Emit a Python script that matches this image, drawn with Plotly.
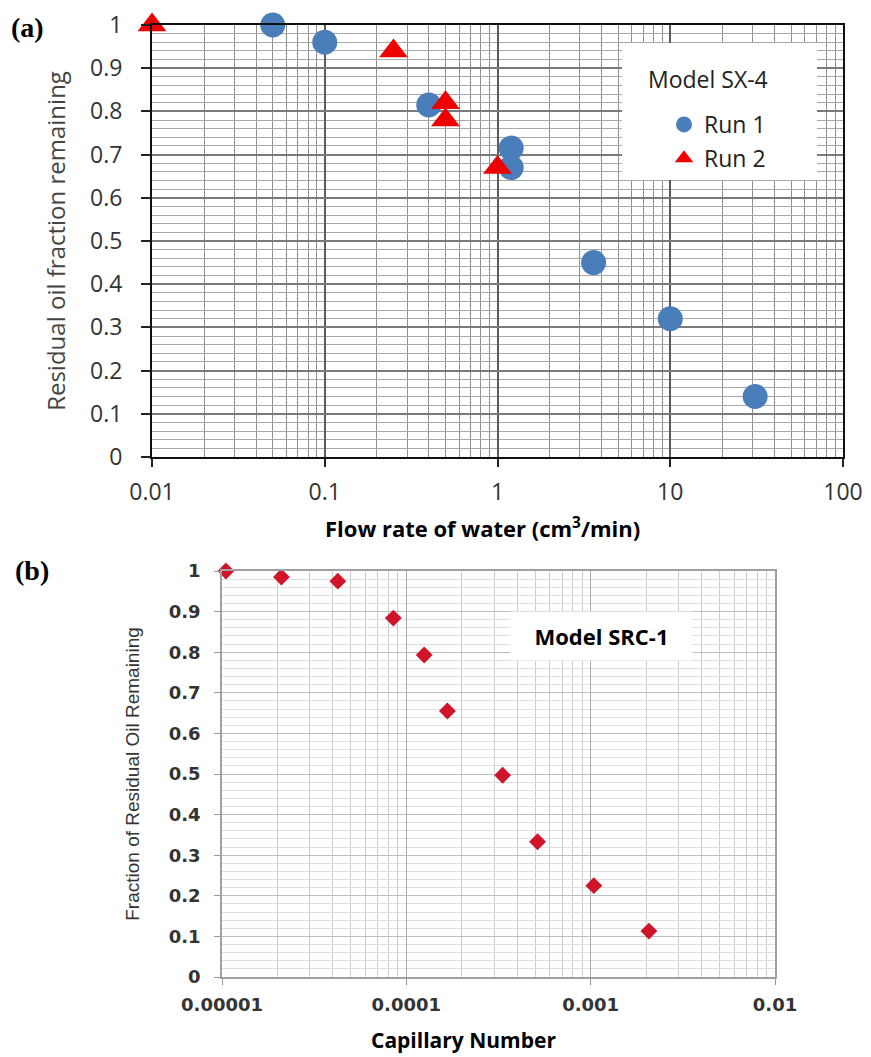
import plotly.graph_objects as go

# page offset of the plot div (default body margin) and figure size
OFF = 8
W, H = 871 - OFF, 1057 - OFF

# ---------------- data: panel (a) ----------------
run1_flow = [0.05, 0.1, 0.4, 1.2, 1.2, 3.6, 10, 31]
run1_frac = [1.0, 0.96, 0.815, 0.715, 0.67, 0.45, 0.32, 0.14]
run2_flow = [0.01, 0.25, 0.5, 0.5, 1.0]
run2_frac = [1.0, 0.94, 0.82, 0.78, 0.67]

# ---------------- data: panel (b) ----------------
cap_number = [1.05e-5, 2.1e-5, 4.25e-5, 8.5e-5, 1.25e-4, 1.67e-4,
              3.33e-4, 5.15e-4, 1.04e-3, 2.07e-3]
src1_frac = [1.0, 0.985, 0.975, 0.884, 0.793, 0.655, 0.497, 0.333, 0.225, 0.113]

# ---------------- tick labels ----------------
a_xtickvals = [0.01, 0.1, 1, 10, 100]
a_xticktext = ["0.01", "0.1", "1", "10", "100"]
b_xtickvals = [1e-5, 1e-4, 1e-3, 1e-2]
b_xticktext = ["0.00001", "0.0001", "0.001", "0.01"]
frac_tickvals = [0, 0.1, 0.2, 0.3, 0.4, 0.5, 0.6, 0.7, 0.8, 0.9, 1.0]
frac_ticktext = ["0", "0.1", "0.2", "0.3", "0.4", "0.5", "0.6", "0.7", "0.8", "0.9", "1"]


def px_x(p):
    return (p - OFF) / W


def px_y(p):
    return 1 - (p - OFF) / H


fig = go.Figure()

fig.add_trace(go.Scatter(
    x=run1_flow, y=run1_frac, mode="markers", name="Run 1",
    legendgroup="r1",
    marker=dict(symbol="circle", size=25, color="#4a7ebb"),
    cliponaxis=False, xaxis="x", yaxis="y"))
fig.add_trace(go.Scatter(
    x=run2_flow, y=run2_frac, mode="markers", name="Run 2",
    legendgroup="r2",
    marker=dict(symbol="triangle-up", size=25, color="#ee0000"),
    cliponaxis=False, xaxis="x", yaxis="y"))
fig.add_trace(go.Scatter(
    x=cap_number, y=src1_frac, mode="markers", name="Model SRC-1",
    marker=dict(symbol="diamond", size=13, color="#d0142a"),
    cliponaxis=False, showlegend=False, xaxis="x2", yaxis="y2"))

top_font = dict(family="Open Sans", size=23, color="#333333")
bot_font = dict(family="DejaVu Sans", size=18, color="#333333", weight="bold")

fig.update_layout(
    width=W, height=H, autosize=False,
    margin=dict(l=0, r=0, t=0, b=0, pad=0, autoexpand=False),
    paper_bgcolor="white", plot_bgcolor="white",
    font=dict(family="Open Sans", color="#333333"),
    xaxis=dict(
        type="log", domain=[px_x(152), px_x(843)], range=[-2, 2],
        anchor="y", automargin=False,
        tickmode="array", tickvals=a_xtickvals, ticktext=a_xticktext,
        tickfont=top_font, ticks="outside", ticklen=8, tickwidth=1.5,
        tickcolor="#222222", ticklabelstandoff=5,
        showline=True, linecolor="#111111", linewidth=2, mirror=True,
        showgrid=True, gridcolor="#5a5a5a", gridwidth=1.5,
        minor=dict(dtick="D1", showgrid=True, gridcolor="#8f8f8f",
                   gridwidth=1, ticks=""),
        zeroline=False,
    ),
    yaxis=dict(
        domain=[px_y(457), px_y(25)], range=[0, 1], anchor="x",
        automargin=False,
        tickmode="array", tickvals=frac_tickvals, ticktext=frac_ticktext,
        tickfont=top_font, ticks="outside", ticklen=9, tickwidth=1.5,
        tickcolor="#222222", ticklabelstandoff=14,
        showline=True, linecolor="#111111", linewidth=2, mirror=True,
        showgrid=True, gridcolor="#7a7a7a", gridwidth=1.5,
        minor=dict(dtick=0.02, showgrid=True, gridcolor="#a8a8a8",
                   gridwidth=1, ticks=""),
        zeroline=False,
        title=dict(text="Residual oil fraction remaining",
                   font=dict(family="Open Sans", size=24, color="#444444"),
                   standoff=18),
    ),
    xaxis2=dict(
        type="log", domain=[px_x(222), px_x(775)], range=[-5, -2],
        anchor="y2", automargin=False,
        tickmode="array", tickvals=b_xtickvals, ticktext=b_xticktext,
        tickfont=bot_font, ticks="outside", ticklen=6, tickwidth=1,
        tickcolor="#999999", ticklabelstandoff=5,
        showline=True, linecolor="#a0a0a0", linewidth=1.5, mirror=True,
        showgrid=True, gridcolor="#a9a9a9", gridwidth=1,
        minor=dict(dtick="D1", showgrid=True, gridcolor="#cccccc",
                   gridwidth=1, ticks=""),
        zeroline=False,
    ),
    yaxis2=dict(
        domain=[px_y(977), px_y(571)], range=[0, 1], anchor="x2",
        automargin=False,
        tickmode="array", tickvals=frac_tickvals, ticktext=frac_ticktext,
        tickfont=bot_font, ticks="outside", ticklen=6, tickwidth=1,
        tickcolor="#999999", ticklabelstandoff=10,
        showline=True, linecolor="#a0a0a0", linewidth=1.5, mirror=True,
        showgrid=True, gridcolor="#bdbdbd", gridwidth=1,
        minor=dict(dtick=0.02, showgrid=True, gridcolor="#dddddd",
                   gridwidth=1, ticks=""),
        zeroline=False,
        title=dict(text="Fraction of Residual Oil Remaining",
                   font=dict(family="Liberation Sans", size=19, color="#333333"),
                   standoff=24),
    ),
    legend=dict(
        x=px_x(640), y=px_y(103), xanchor="left", yanchor="top",
        bgcolor="rgba(0,0,0,0)", borderwidth=0,
        font=dict(family="Open Sans", size=23, color="#222222"),
        indentation=24, itemsizing="trace", tracegroupgap=1,
    ),
    shapes=[
        dict(type="rect", xref="paper", yref="paper",
             x0=px_x(622), x1=px_x(817), y0=px_y(180), y1=px_y(43),
             fillcolor="white", line=dict(width=0), layer="above"),
    ],
    annotations=[
        dict(text="Model SX-4", x=px_x(708), y=px_y(79), xref="paper", yref="paper",
             xanchor="center", yanchor="middle", showarrow=False,
             font=dict(family="Open Sans", size=23, color="#222222")),
        dict(text="<b>(a)</b>", x=px_x(27), y=px_y(27), xref="paper", yref="paper",
             xanchor="center", yanchor="middle", showarrow=False,
             font=dict(family="Liberation Serif", size=28, color="black")),
        dict(text="<b>(b)</b>", x=px_x(32), y=px_y(570), xref="paper", yref="paper",
             xanchor="center", yanchor="middle", showarrow=False,
             font=dict(family="Liberation Serif", size=28, color="black")),
        dict(text="<b>Flow rate of water (cm<sup>3</sup>/min)</b>", x=px_x(483), y=px_y(528),
             xref="paper", yref="paper", xanchor="center", yanchor="middle",
             showarrow=False,
             font=dict(family="Open Sans", size=22, color="black")),
        dict(text="<b>Capillary Number</b>", x=px_x(463), y=px_y(1040),
             xref="paper", yref="paper", xanchor="center", yanchor="middle",
             showarrow=False,
             font=dict(family="Open Sans", size=21, color="black")),
        dict(text="<b>Model SRC-1</b>", x=px_x(601), y=px_y(636),
             xref="paper", yref="paper", xanchor="center", yanchor="middle",
             showarrow=False, width=179, height=46, bgcolor="white",
             font=dict(family="Open Sans", size=22, color="black")),
    ],
)

fig.write_html("out.html")
